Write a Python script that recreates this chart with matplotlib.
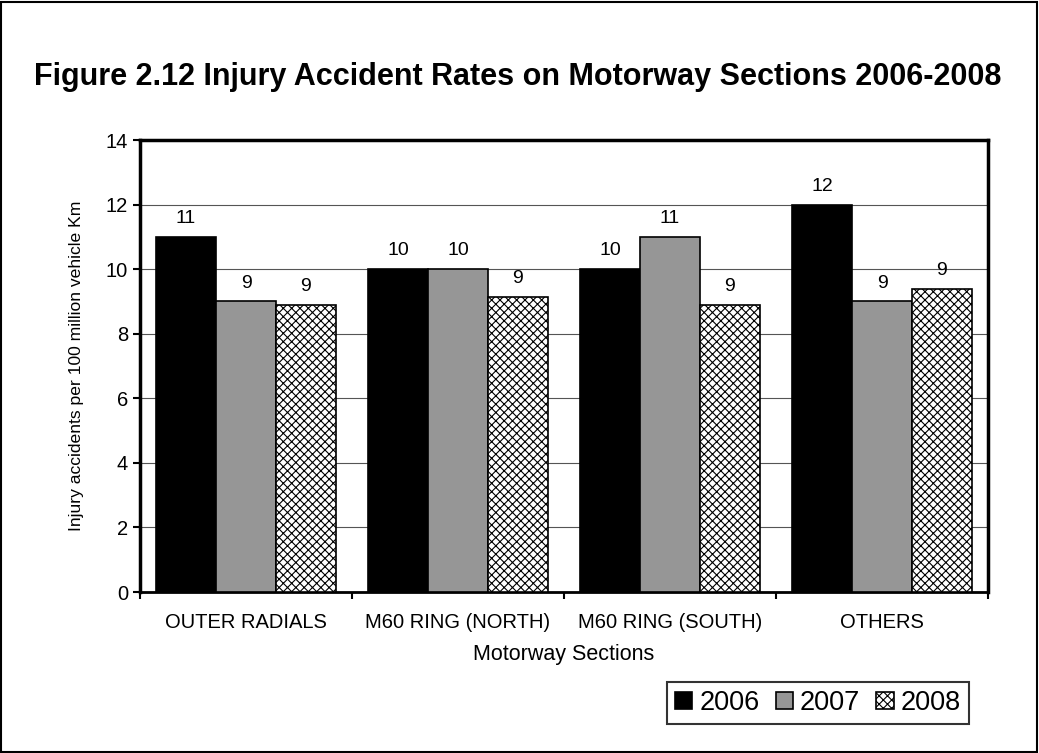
import numpy as np
import matplotlib
matplotlib.use('Agg')
import matplotlib.pyplot as plt
from matplotlib.patches import Rectangle

plt.rcParams['font.family'] = ['Liberation Sans', 'DejaVu Sans']
plt.rcParams['hatch.linewidth'] = 0.8

categories = ['OUTER RADIALS', 'M60 RING (NORTH)', 'M60 RING (SOUTH)', 'OTHERS']
years = ['2006', '2007', '2008']
rates_2006 = [11.0, 10.0, 10.0, 12.0]
rates_2007 = [9.0, 10.0, 11.0, 9.0]
rates_2008 = [8.9, 9.15, 8.9, 9.4]
labels_2006 = ['11', '10', '10', '12']
labels_2007 = ['9', '10', '11', '9']
labels_2008 = ['9', '9', '9', '9']

fig = plt.figure(figsize=(10.39, 7.53), dpi=100)
fig.patches.append(Rectangle((0.001, 0.001), 0.997, 0.997, transform=fig.transFigure,
                             fill=False, edgecolor='black', linewidth=1.5))
ax = fig.add_axes([140/1039, 1-592/753, 848/1039, 452/753])

x = np.arange(len(categories))
w = 0.283
styles = [dict(color='black', edgecolor='black'),
          dict(color='#969696', edgecolor='black'),
          dict(color='white', edgecolor='black', hatch='xxxx')]
series = [rates_2006, rates_2007, rates_2008]
labs = [labels_2006, labels_2007, labels_2008]
for i, (vals, st, lb) in enumerate(zip(series, styles, labs)):
    bars = ax.bar(x + (i-1)*w, vals, w, label=years[i], linewidth=1.2, zorder=3, **st)
    for b, t in zip(bars, lb):
        ax.annotate(t, (b.get_x()+b.get_width()/2, b.get_height()), xytext=(0, 10),
                    textcoords='offset points', ha='center', va='baseline', fontsize=14)

ax.set_xlim(-0.5, 3.5)
ax.set_ylim(0, 14)
ax.set_yticks(range(0, 15, 2))
ax.yaxis.grid(True, color='#555555', linewidth=0.8, zorder=0)
ax.set_xticks(x)
ax.set_xticklabels(categories, fontsize=14.5)
ax.set_xticks(np.arange(-0.5, 4, 1), minor=True)
ax.tick_params(axis='x', which='major', length=0, pad=15)
ax.tick_params(axis='x', which='minor', length=5, width=1.5, direction='out')
ax.tick_params(axis='y', length=5, width=1.5, labelsize=14.5)
for s in ax.spines.values():
    s.set_linewidth(2.5)
ax.spines['bottom'].set_linewidth(2)

ax.set_ylabel('Injury accidents per 100 million vehicle Km', fontsize=12.6, labelpad=16)
ax.set_xlabel('Motorway Sections', fontsize=15.5, labelpad=9)

fig.text(518/1039, 1-85/753, 'Figure 2.12 Injury Accident Rates on Motorway Sections 2006-2008',
         ha='center', va='baseline', fontsize=22, fontweight='bold')

leg = ax.legend(loc='center', bbox_to_anchor=(818/1039, 1-703/753), bbox_transform=fig.transFigure,
                ncol=3, fontsize=19.5, frameon=True, fancybox=False, handlelength=0.63,
                handleheight=0.63, handletextpad=0.26, columnspacing=0.6, borderpad=0.3,
                borderaxespad=0)
leg.get_frame().set_edgecolor('black')
leg.get_frame().set_linewidth(1.5)

fig.savefig('out.png', dpi=100)
